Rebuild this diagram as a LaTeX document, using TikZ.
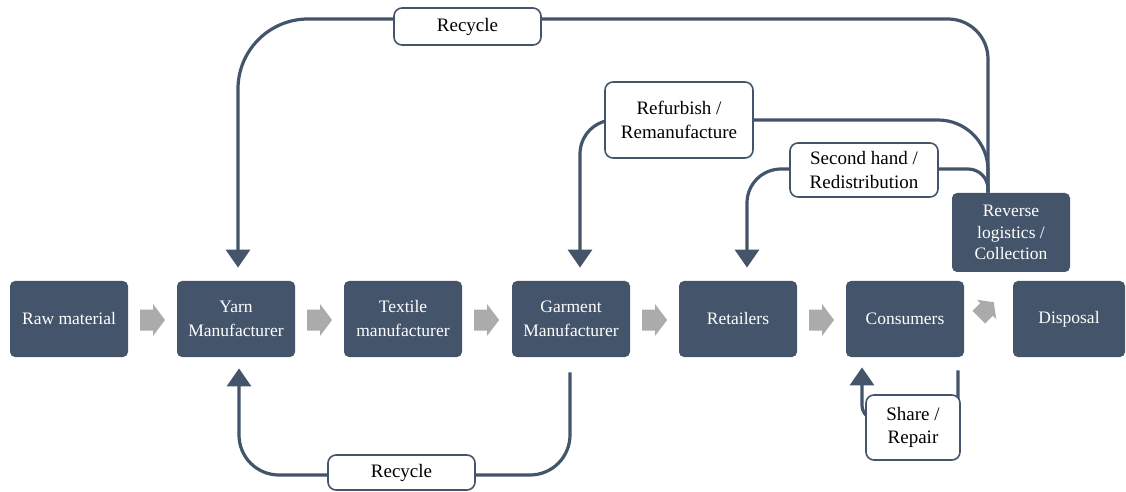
\documentclass[tikz,border=0pt]{standalone}
\usepackage{fontspec}
\setmainfont{Liberation Serif}
\usetikzlibrary{arrows.meta,calc}
\definecolor{slate}{HTML}{44546A}
\definecolor{greyarr}{HTML}{ABABAB}
\tikzset{
  box/.style={fill=slate, rounded corners=2.5pt, text=white, align=center,
    minimum width=59pt, minimum height=38pt, inner sep=1pt,
    font=\rmfamily\fontsize{8.75}{12}\selectfont},
  lbl/.style={draw=slate, line width=0.8pt, fill=white, rounded corners=4pt,
    align=center, inner sep=1pt, font=\rmfamily\fontsize{9.5}{11.7}\selectfont},
  conn/.style={draw=slate, line width=1.6pt, -{Triangle[width=12pt,length=9pt]}},
  flowarrow/.pic={\fill[greyarr] (-12,-10.5) -- (1,-10.5) -- (1,-16) -- (13,0)
    -- (1,16) -- (1,10.5) -- (-12,10.5) -- cycle;}
}
\begin{document}
\begin{tikzpicture}[x=0.5pt,y=-0.5pt]
\useasboundingbox (0,0) rectangle (1126,492);
% main row
\node[box] (raw) at (69,319) {Raw material};
\node[box] (yarn) at (236,319) {Yarn\\Manufacturer};
\node[box] (text) at (403,319) {Textile\\manufacturer};
\node[box] (garm) at (571,319) {Garment\\Manufacturer};
\node[box] (retail) at (738,319) {Retailers};
\node[box] (cons) at (905,319) {Consumers};
\node[box, minimum width=56pt] (disp) at (1069,319) {Disposal};
\node[box, minimum height=39.5pt, font=\rmfamily\fontsize{8.75}{10.8}\selectfont] (rev) at (1011,232.5) {Reverse\\logistics /\\Collection};
% grey flow arrows
\pic (f1) at (152,320) {flowarrow};
\pic (f2) at (319,320) {flowarrow};
\pic (f3) at (486,320) {flowarrow};
\pic (f4) at (654,320) {flowarrow};
\pic (f5) at (821,320) {flowarrow};
% diagonal arrow towards reverse logistics (pointing up-right)
\fill[greyarr] (972.5,310.9) -- (980.3,303.1) -- (977.0,299.8) -- (993.8,302.2)
  -- (996.2,319.0) -- (992.9,315.7) -- (985.1,323.5) -- cycle;
% connectors
\draw[conn] ([xshift=-11.5pt]rev.north) [rounded corners=20pt] -- (988,19) [rounded corners=35pt] -- (238,19) -- ([xshift=1pt,yshift=6.5pt]yarn.north);
\draw[conn] ([xshift=-11.5pt]rev.north) [rounded corners=25pt] -- (988,120) [rounded corners=17pt] -- (580,120) -- ([xshift=4.5pt,yshift=6.5pt]garm.north);
\draw[conn] ([xshift=-11.5pt]rev.north) [rounded corners=10pt] -- (988,169) [rounded corners=17pt] -- (747,169) -- ([xshift=4.5pt,yshift=6.5pt]retail.north);
\draw[conn] ([xshift=-0.5pt,yshift=-7.5pt]garm.south) [rounded corners=20pt] -- (570,475) -- (239,475) [sharp corners] -- ([xshift=1.5pt,yshift=-5.5pt]yarn.south);
\draw[conn] ([xshift=26.5pt,yshift=-6.5pt]cons.south) [rounded corners=7.5pt] -- (958,420) -- (862,420) [sharp corners] -- ([xshift=-21.5pt,yshift=-5pt]cons.south);
% labels
\node[lbl, minimum width=73.5pt, minimum height=18.5pt] (rtop) at (467.5,26.5) {Recycle};
\node[lbl, minimum width=74pt, minimum height=38pt] (refurb) at (679,120) {Refurbish /\\Remanufacture};
\node[lbl, minimum width=74pt, minimum height=27pt] (second) at (864,170) {Second hand /\\Redistribution};
\node[lbl, minimum width=73.5pt, minimum height=17.5pt] (rbot) at (401.5,472.5) {Recycle};
\node[lbl, minimum width=47pt, minimum height=32.5pt] (share) at (913,427.5) {Share /\\Repair};
\end{tikzpicture}
\end{document}
